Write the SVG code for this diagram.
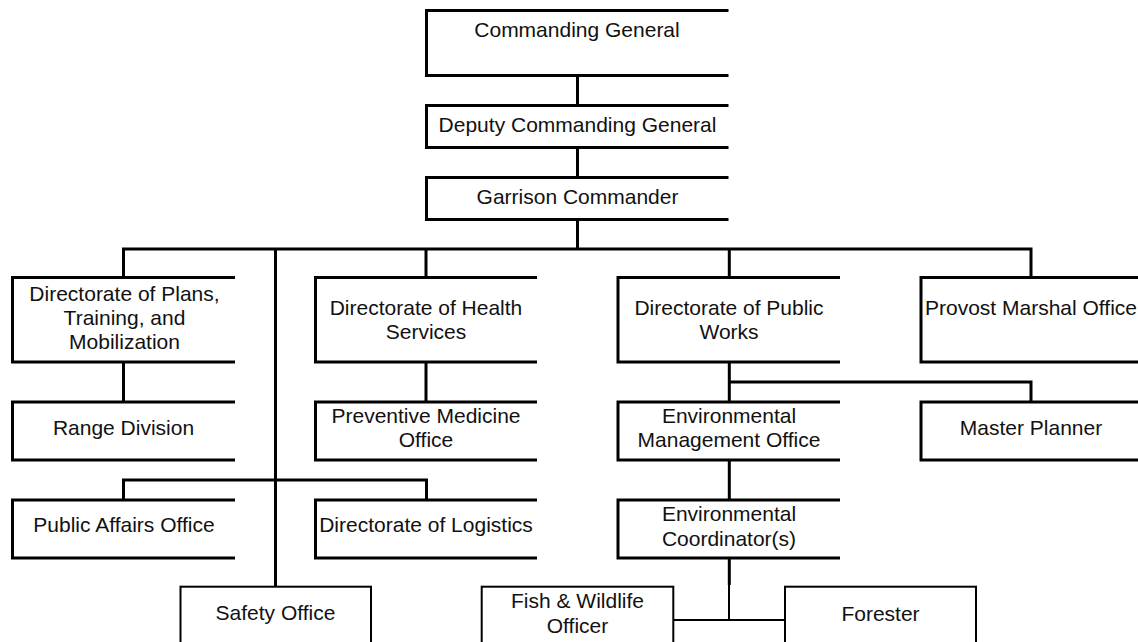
<svg xmlns="http://www.w3.org/2000/svg" width="1138" height="642" viewBox="0 0 1138 642">
<style>
.b{fill:none;stroke:#000;stroke-width:3;stroke-linejoin:miter}
.t{fill:none;stroke:#000;stroke-width:2}
.c{fill:none;stroke:#000;stroke-width:3}
.ct{fill:none;stroke:#000;stroke-width:2}
text{font-family:"Liberation Sans",Arial,sans-serif;font-size:21px;fill:#111;text-anchor:middle}
</style>
<rect width="1138" height="642" fill="#fff"/>
<g id="connectors">
<path class="c" d="M577.5,75.5V105.5M577.5,147.5V177.5M577.5,219.5V249"/>
<path class="c" d="M123.5,277.5V249H1031V277.5M426,249V277.5M729.3,249V277.5M275.5,249V586.7"/>
<path class="c" d="M123.5,362V402M426,362V402M729.3,362V402M729.3,382H1031V402"/>
<path class="c" d="M729.3,460V500M123.5,500V480H426.5V500"/>
<path class="c" d="M729.3,558V585"/>
<path class="ct" d="M729,585V620M673,620H785"/>
</g>
<g id="commanding-general"><path class="b" d="M728.5,10.5H426.5V75.5H728.5"/><text x="577" y="37">Commanding General</text></g>
<g id="deputy-commanding-general"><path class="b" d="M728.5,105.5H426.5V147.5H728.5"/><text x="577.5" y="132">Deputy Commanding General</text></g>
<g id="garrison-commander"><path class="b" d="M728.5,177.5H426.5V219.5H728.5"/><text x="577.5" y="204">Garrison Commander</text></g>
<g id="dptm"><path class="b" d="M235,277.5H12.5V362H235"/><text x="124.5" y="300.7">Directorate of Plans,</text><text x="124.5" y="325">Training, and</text><text x="124.5" y="349.3">Mobilization</text></g>
<g id="dhs"><path class="b" d="M537,277.5H315.5V362H537"/><text x="426" y="315">Directorate of Health</text><text x="426" y="339">Services</text></g>
<g id="dpw"><path class="b" d="M840,277.5H618V362H840"/><text x="729" y="315">Directorate of Public</text><text x="729" y="339">Works</text></g>
<g id="provost"><path class="b" d="M1143,277.5H921V362H1143"/><text x="1031" y="315">Provost Marshal Office</text></g>
<g id="range-division"><path class="b" d="M235,402H12.5V460H235"/><text x="123.5" y="435">Range Division</text></g>
<g id="preventive-medicine"><path class="b" d="M537,402H315.5V460H537"/><text x="426" y="422.7">Preventive Medicine</text><text x="426" y="447.3">Office</text></g>
<g id="emo"><path class="b" d="M840,402H618V460H840"/><text x="729" y="422.7">Environmental</text><text x="729" y="447.3">Management Office</text></g>
<g id="master-planner"><path class="b" d="M1143,402H921V460H1143"/><text x="1031" y="435">Master Planner</text></g>
<g id="public-affairs"><path class="b" d="M235,500H12.5V558H235"/><text x="124" y="531.7">Public Affairs Office</text></g>
<g id="logistics"><path class="b" d="M537,500H315.5V558H537"/><text x="426" y="531.7">Directorate of Logistics</text></g>
<g id="env-coordinator"><path class="b" d="M840,500H618V558H840"/><text x="729" y="521">Environmental</text><text x="729" y="546">Coordinator(s)</text></g>
<g id="safety"><rect class="t" x="180.5" y="586.7" width="190.5" height="70"/><text x="275.5" y="620">Safety Office</text></g>
<g id="fish-wildlife"><rect class="t" x="481.7" y="586.7" width="191.6" height="70"/><text x="577.5" y="608">Fish &amp; Wildlife</text><text x="577.5" y="633">Officer</text></g>
<g id="forester"><rect class="t" x="785" y="586.7" width="191" height="70"/><text x="880.5" y="621">Forester</text></g>
</svg>
